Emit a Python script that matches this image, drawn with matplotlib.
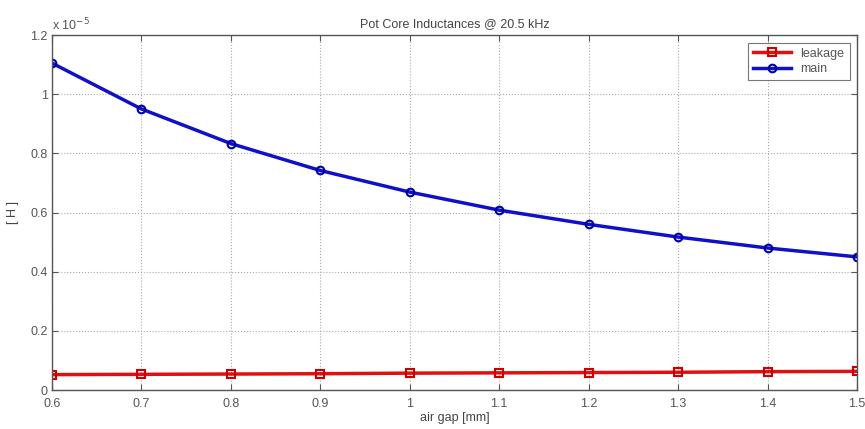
import matplotlib
matplotlib.use("Agg")
import matplotlib.pyplot as plt
from matplotlib.ticker import FuncFormatter, MultipleLocator

plt.rcParams['font.family'] = ['Liberation Sans', 'DejaVu Sans']

air_gap = [0.6, 0.7, 0.8, 0.9, 1.0, 1.1, 1.2, 1.3, 1.4, 1.5]
main_H = [1.105e-5, 0.950e-5, 0.833e-5, 0.742e-5, 0.669e-5, 0.608e-5, 0.560e-5, 0.517e-5, 0.480e-5, 0.450e-5]
leakage_H = [0.052e-5, 0.053e-5, 0.054e-5, 0.055e-5, 0.057e-5, 0.058e-5, 0.059e-5, 0.060e-5, 0.062e-5, 0.063e-5]

fig = plt.figure(figsize=(8.65, 4.29), dpi=100)
ax = fig.add_axes([0.0601, 0.0909, 0.9307, 0.8275])

ax.plot(air_gap, leakage_H, color='#e01010', lw=2.5, marker='s', ms=5.5,
        mfc='none', mec='#cc0000', mew=1.5, label='leakage')
ax.plot(air_gap, main_H, color='#1010c8', lw=2.5, marker='o', ms=5.5,
        mfc='none', mec='#0000aa', mew=1.5, label='main')

ax.set_xlim(0.6, 1.5)
ax.set_ylim(0, 1.2e-5)
ax.xaxis.set_major_locator(MultipleLocator(0.1))
ax.yaxis.set_major_locator(MultipleLocator(0.2e-5))
ax.xaxis.set_major_formatter(FuncFormatter(lambda v, p: '%g' % round(v, 2)))
ax.yaxis.set_major_formatter(FuncFormatter(lambda v, p: '%g' % round(v / 1e-5, 2)))

tc = '#555555'
ax.tick_params(direction='in', top=True, right=True, labelsize=9, colors=tc, length=4)
ax.tick_params(axis='x', pad=6)
ax.tick_params(axis='y', pad=3)
for s in ax.spines.values():
    s.set_color('#555555')
    s.set_linewidth(1.0)
ax.grid(True, linestyle=':', color='#aaaaaa', linewidth=0.8)

ax.set_title('Pot Core Inductances @ 20.5 kHz', fontsize=9, color='#444444', pad=6)
ax.set_xlabel('air gap [mm]', fontsize=9, color='#444444', labelpad=1)
ax.set_ylabel('[ H ]', fontsize=9, color='#444444', labelpad=8)
ax.text(0.0, 1.005, r'x 10$^{-5}$', transform=ax.transAxes, fontsize=9,
        color='#555555', ha='left', va='bottom')

leg = ax.legend(loc='upper right', fontsize=9, frameon=True, fancybox=False,
                edgecolor='#555555', handlelength=3.0, borderaxespad=0.6,
                labelspacing=0.3, borderpad=0.4)
for t in leg.get_texts():
    t.set_color('#555555')
leg.get_frame().set_linewidth(0.8)

fig.savefig('out.png', dpi=100)
